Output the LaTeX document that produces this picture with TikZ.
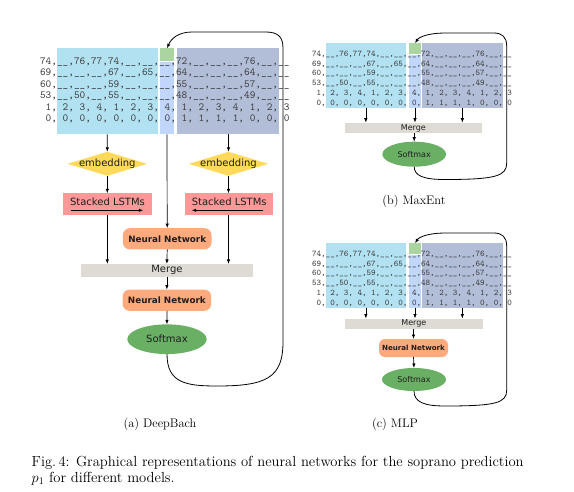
\documentclass[tikz,border=0pt]{standalone}
\usepackage{fontspec}
\setsansfont{DejaVu Sans}
\usetikzlibrary{arrows.meta,calc,fit,shapes.geometric}
\definecolor{cyanc}{RGB}{178,226,242}
\definecolor{lightc}{RGB}{192,214,250}
\definecolor{darkc}{RGB}{178,190,216}
\definecolor{greenc}{RGB}{170,212,160}
\definecolor{diamc}{RGB}{255,217,90}
\definecolor{lstmc}{RGB}{252,152,152}
\definecolor{nnc}{RGB}{255,170,125}
\definecolor{mergec}{RGB}{221,219,212}
\definecolor{smc}{RGB}{106,176,100}
\definecolor{rowtext}{RGB}{60,60,60}
\definecolor{labeltext}{RGB}{30,30,30}
\newcommand{\gridrowA}{74,\_\_,76,77,74,\_\_,\_\_,\_\_,72,\_\_,\_\_,\_\_,76,\_\_,\_\_}
\newcommand{\gridrowB}{69,\_\_,\_\_,\_\_,67,\_\_,65,\_\_,64,\_\_,\_\_,\_\_,64,\_\_,\_\_}
\newcommand{\gridrowC}{60,\_\_,\_\_,\_\_,59,\_\_,\_\_,\_\_,55,\_\_,\_\_,\_\_,57,\_\_,\_\_}
\newcommand{\gridrowD}{53,\_\_,50,\_\_,55,\_\_,\_\_,\_\_,48,\_\_,\_\_,\_\_,49,\_\_,\_\_}
\newcommand{\gridrowE}{~1,~2,~3,~4,~1,~2,~3,~4,~1,~2,~3,~4,~1,~2,~3}
\newcommand{\gridrowF}{~0,~0,~0,~0,~0,~0,~0,~0,~1,~1,~1,~1,~0,~0,~0}
\newcommand{\smallgrid}{%
  \node[fit={(325.7,43.3) (406,107.7)}, fill=cyanc] (ca) {};
  \node[fit={(409.3,43.3) (420.7,54.3)}, fill=greenc] (gr) {};
  \node[fit={(409.3,55.3) (420.7,107.7)}, fill=lightc] (lb) {};
  \node[fit={(422,43.3) (502.7,107.7)}, fill=darkc] (dk) {};
  \node[rowtxtB] (r1) at (312.1,56.1) {\gridrowA};
  \node[rowtxtB] (r2) at (312.1,66.0) {\gridrowB};
  \node[rowtxtB] (r3) at (312.1,75.8) {\gridrowC};
  \node[rowtxtB] (r4) at (312.1,85.7) {\gridrowD};
  \node[rowtxtB] (r5) at (312.1,95.6) {\gridrowE};
  \node[rowtxtB] (r6) at (312.1,105.4) {\gridrowF};
}
\begin{document}
\begin{tikzpicture}[x=1pt,y=-1pt,
  >={Latex[length=4.5pt,width=3.4pt]},
  every node/.style={inner sep=0pt, outer sep=0pt},
  arr/.style={->, line width=0.7pt, black},
  loopline/.style={->, line width=0.8pt, black},
  rowtxtA/.style={anchor=base west, font=\fontsize{10.8}{11.5}\selectfont\ttfamily, text=rowtext},
  rowtxtB/.style={anchor=base west, font=\fontsize{8.65}{9.9}\selectfont\ttfamily, text=rowtext},
  lblA/.style={font=\fontsize{10}{12}\selectfont\sffamily, text=labeltext},
  lblB/.style={font=\fontsize{8}{10}\selectfont\sffamily, text=labeltext},
  embed/.style={diamond, fill=diamc, lblA},
  lstmbox/.style={rectangle, fill=lstmc, lblA, minimum width=88.4pt, minimum height=21.7pt},
  nnA/.style={rectangle, rounded corners=7pt, fill=nnc, font=\fontsize{8.8}{10}\selectfont\sffamily\bfseries, text=labeltext, minimum width=88.6pt, minimum height=21.3pt},
  nnB/.style={rectangle, rounded corners=6pt, fill=nnc, font=\fontsize{7.1}{8}\selectfont\sffamily\bfseries, text=labeltext, minimum width=69pt, minimum height=18pt},
  mergebox/.style={rectangle, fill=mergec},
  smax/.style={ellipse, fill=smc},
  capt/.style={font=\fontsize{12.4}{15}\selectfont, text=black},
  figcapt/.style={font=\fontsize{14.6}{16}\selectfont, text=black}
]
\fill[white] (0,0) rectangle (574,491);
\useasboundingbox (0,0) rectangle (574,491);

% ---------------- (a) DeepBach ----------------
\node[fit={(56.7,48.3) (158,134.3)}, fill=cyanc] (caA) {};
\node[fit={(160,48.3) (174,61)}, fill=greenc] (grA) {};
\node[fit={(160,62) (174,134.3)}, fill=lightc] (lbA) {};
\node[fit={(177,48.3) (279,134.3)}, fill=darkc] (dkA) {};
\node[rowtxtA] (ra1) at (40,64.2) {\gridrowA};
\node[rowtxtA] (ra2) at (40,75.7) {\gridrowB};
\node[rowtxtA] (ra3) at (40,87.2) {\gridrowC};
\node[rowtxtA] (ra4) at (40,98.7) {\gridrowD};
\node[rowtxtA] (ra5) at (40,110.2) {\gridrowE};
\node[rowtxtA] (ra6) at (40,121.7) {\gridrowF};

\node[embed, minimum width=79.4pt, minimum height=24pt] (emA1) at (107.3,163.8) {\makebox[0pt]{embedding}};
\node[embed, minimum width=79.4pt, minimum height=24pt] (emA2) at (228.5,163.8) {\makebox[0pt]{embedding}};
\node[lstmbox] (lsA1) at (107.5,204.2) {\smash{\raisebox{-1pt}{Stacked LSTMs}}};
\node[lstmbox] (lsA2) at (229.2,204.2) {\smash{\raisebox{-1pt}{Stacked LSTMs}}};
\draw[->, line width=0.7pt] ($(lsA1.south west)+(7.4,-4.8)$) -- ($(lsA1.south east)+(-8.4,-4.8)$);
\draw[->, line width=0.7pt] ($(lsA2.south east)+(-10,-4.8)$) -- ($(lsA2.south west)+(6.7,-4.8)$);
\node[nnA] (nnA1) at (167.2,238.8) {Neural Network};
\node[mergebox, lblA, minimum width=171.7pt, minimum height=12.7pt] (mgA) at (166.9,270.3) {Merge};
\node[nnA] (nnA2) at (166.9,300.2) {Neural Network};
\node[smax, lblA, minimum width=79.4pt, minimum height=29.7pt] (smA) at (167,339.2) {Softmax};

\draw[arr] (caA.south) -- (emA1.north);
\draw[arr] (emA1.south) -- (lsA1.north -| emA1.south);
\draw[arr] (lsA1.south -| emA1.south) -- (mgA.north -| emA1.south);
\draw[arr] (emA2.north |- dkA.south) -- (emA2.north);
\draw[arr] (emA2.south) -- (lsA2.north -| emA2.south);
\draw[arr] (lsA2.south -| emA2.south) -- (mgA.north -| emA2.south);
\draw[arr] (lbA.south) -- (nnA1.north);
\draw[arr] (nnA1.south) -- (mgA.north);
\draw[arr] (mgA.south) -- (nnA2.north);
\draw[arr] (nnA2.south) -- (smA.north);
\draw[loopline] (smA.south) .. controls (167,383) and (186,386) .. (217,386)
  .. controls (266,386) and (283,378) .. (283,342) -- (283,48)
  .. controls (283,37) and (278,32) .. (266,32) -- (192,32)
  .. controls (178,32) and (171,39) .. (grA.north);
\node[capt] (capA) at (160,424) {(a) DeepBach};

% ---------------- (b) MaxEnt ----------------
\begin{scope}[name prefix=b-]
\smallgrid
\node[mergebox, lblB, minimum width=136.7pt, minimum height=10.6pt] (mg) at (413.4,128) {Merge};
\node[smax, lblB, minimum width=63.7pt, minimum height=25pt] (sm) at (414.2,154.2) {Softmax};
\draw[arr] (ca.south) -- (mg.north -| ca.south);
\draw[arr] (lb.south) -- (mg.north -| lb.south);
\draw[arr] (dk.south) -- (mg.north -| dk.south);
\draw[arr] (mg.south -| sm.north) -- (sm.north);
\draw[loopline] (sm.south) .. controls (414.2,176) and (424,179.5) .. (445,179.5)
  .. controls (496,179.5) and (506.7,176) .. (506.7,163) -- (506.7,46)
  .. controls (506.7,37) and (502,33) .. (494,33) -- (446,33)
  .. controls (428,33) and (419,37) .. (gr.north);
\node[capt] (capB) at (414,201.7) {(b) MaxEnt};
\end{scope}

% ---------------- (c) MLP ----------------
\begin{scope}[shift={(0,200)}, name prefix=c-]
\smallgrid
\node[mergebox, lblB, minimum width=137.7pt, minimum height=10.5pt] (mg) at (413.9,123.8) {Merge};
\node[nnB] (nn) at (413.5,148) {Neural Network};
\node[smax, lblB, minimum width=64pt, minimum height=23pt] (sm) at (414,179.5) {Softmax};
\draw[arr] (ca.south) -- (mg.north -| ca.south);
\draw[arr] (lb.south) -- (mg.north -| lb.south);
\draw[arr] (dk.south) -- (mg.north -| dk.south);
\draw[arr] (mg.south -| nn.north) -- (nn.north);
\draw[arr] (nn.south) -- (sm.north);
\draw[loopline] (sm.south) .. controls (414,202) and (424,206) .. (445,206)
  .. controls (496,206) and (506.7,203) .. (506.7,190) -- (506.7,46)
  .. controls (506.7,37) and (502,33) .. (494,33) -- (446,33)
  .. controls (428,33) and (419,37) .. (gr.north);
\end{scope}
\node[capt] (capC) at (395,424) {(c) MLP};

% ---------------- caption ----------------
\node[figcapt, anchor=base west] (cap1) at (31.7,466.5) {Fig.\,4: Graphical representations of neural networks for the soprano prediction};
\node[figcapt, anchor=base west] (cap2) at (31.7,482.5) {$p_1$ for different models.};
\end{tikzpicture}
\end{document}
